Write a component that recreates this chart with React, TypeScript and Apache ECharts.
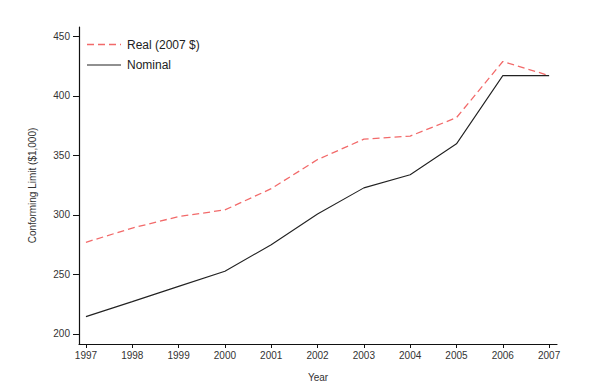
import React, { useEffect, useRef } from "react";
import * as echarts from "echarts";

const years = [1997, 1998, 1999, 2000, 2001, 2002, 2003, 2004, 2005, 2006, 2007];
const realValues = [277, 289, 298.6, 304.2, 322, 346.5, 363.6, 366.2, 381.7, 428.8, 417];
const nominalValues = [214.6, 227.2, 240, 252.7, 275, 300.7, 322.7, 333.7, 359.7, 417, 417];
const yTicks = [200, 250, 300, 350, 400, 450];

const FONT = "Liberation Sans, Arial, sans-serif";

export default function App() {
  const ref = useRef<HTMLDivElement>(null);
  useEffect(() => {
    if (!ref.current) return;
    const chart = echarts.init(ref.current, undefined, { renderer: "svg" });
    chart.setOption({
      animation: false,
      backgroundColor: "#ffffff",
      grid: { left: 79, right: 43, top: 27, bottom: 47, containLabel: false },
      xAxis: {
        type: "value",
        min: 1996.85,
        max: 2007.17,
        name: "Year",
        nameLocation: "middle",
        nameGap: 28,
        nameTextStyle: { fontFamily: FONT, fontSize: 10, color: "#333" },
        axisLine: { show: true, lineStyle: { color: "#111", width: 1.2 } },
        axisTick: { show: true, length: 4, lineStyle: { color: "#111" }, customValues: years },
        axisLabel: {
          show: true,
          customValues: years,
          fontFamily: FONT,
          fontSize: 10,
          color: "#333",
          margin: 6,
          formatter: (v: number) => String(Math.round(v)),
        },
        splitLine: { show: false },
      },
      yAxis: {
        type: "value",
        min: 191.6,
        max: 457.8,
        name: "Conforming Limit ($1,000)",
        nameLocation: "middle",
        nameGap: 42,
        nameTextStyle: { fontFamily: FONT, fontSize: 10, color: "#333" },
        axisLine: { show: true, lineStyle: { color: "#111", width: 1.2 } },
        axisTick: { show: true, length: 6, lineStyle: { color: "#111" }, customValues: yTicks },
        axisLabel: {
          show: true,
          customValues: yTicks,
          fontFamily: FONT,
          fontSize: 10,
          color: "#333",
          margin: 9,
        },
        splitLine: { show: false },
      },
      series: [
        {
          name: "Real (2007 $)",
          type: "line",
          symbol: "none",
          data: years.map((y, i) => [y, realValues[i]]),
          lineStyle: { color: "#f26a6a", width: 1.3, type: [7, 4] },
        },
        {
          name: "Nominal",
          type: "line",
          symbol: "none",
          data: years.map((y, i) => [y, nominalValues[i]]),
          lineStyle: { color: "#222", width: 1.1 },
        },
      ],
      graphic: [
        {
          type: "line",
          shape: { x1: 87, y1: 44.5, x2: 121, y2: 44.5 },
          style: { stroke: "#f26a6a", lineWidth: 1.3, lineDash: [7, 4] },
        },
        {
          type: "text",
          x: 127,
          y: 44.5,
          style: { text: "Real (2007 $)", font: `12px ${FONT}`, fill: "#222", textVerticalAlign: "middle" },
        },
        {
          type: "line",
          shape: { x1: 87, y1: 65, x2: 121, y2: 65 },
          style: { stroke: "#222", lineWidth: 1.1 },
        },
        {
          type: "text",
          x: 127,
          y: 65,
          style: { text: "Nominal", font: `12px ${FONT}`, fill: "#222", textVerticalAlign: "middle" },
        },
      ],
    });
    return () => chart.dispose();
  }, []);
  return <div ref={ref} style={{ width: 600, height: 391, position: "absolute", left: 0, top: 0 }} />;
}
